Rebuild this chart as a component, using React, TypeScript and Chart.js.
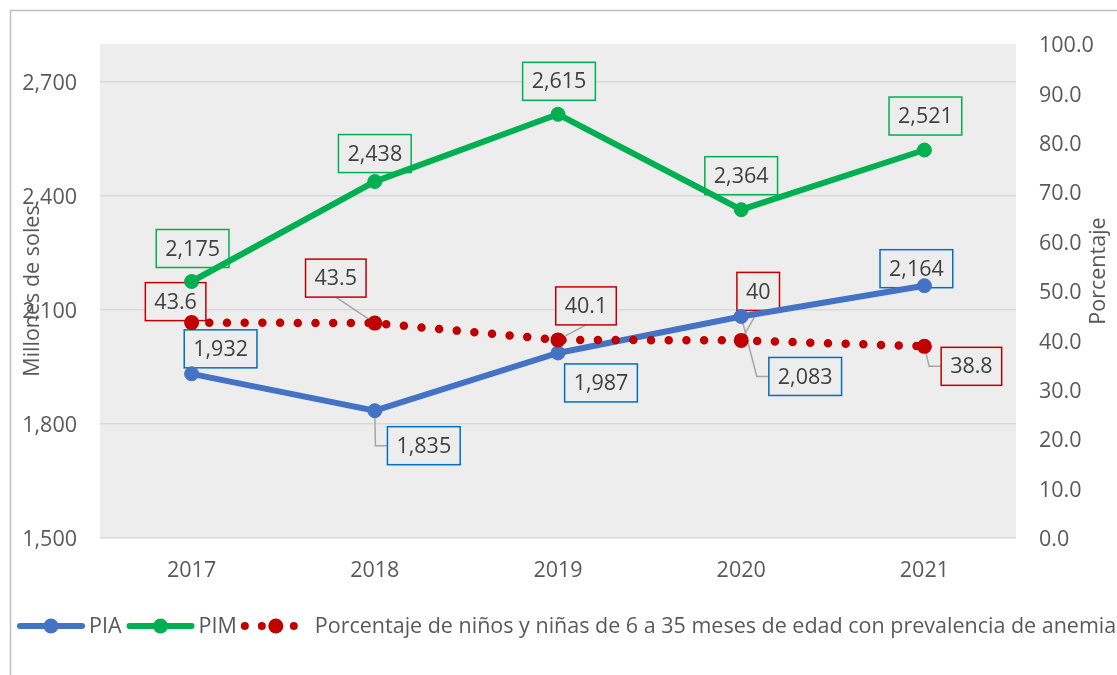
import React, { useEffect, useRef } from 'react';
import { Chart, registerables } from 'chart.js';

Chart.register(...registerables);

// ---- data ----
const years = ['2017', '2018', '2019', '2020', '2021'];
const piaValues = [1932, 1835, 1987, 2083, 2164];
const pimValues = [2175, 2438, 2615, 2364, 2521];
const anemiaValues = [43.6, 43.5, 40.1, 40, 38.8];
const leftTickValues = [1500, 1800, 2100, 2400, 2700];
const rightTickValues = [0, 10, 20, 30, 40, 50, 60, 70, 80, 90, 100];

const seriesNames = ['PIA', 'PIM', 'Porcentaje de niños y niñas de 6 a 35 meses de edad con prevalencia de anemia'];
const leftTitle = 'Millones de soles';
const rightTitle = 'Porcentaje';

// ---- label placement (offset of label box centre from its point) ----
type Leader = 'none' | 'straight' | 'elbow';
const piaLabelPos: [number, number, Leader][] = [
  [29, -25, 'none'], [49, 35, 'elbow'], [43, 30, 'none'], [64, 60, 'elbow'], [-8, -17, 'none'],
];
const pimLabelPos: [number, number, Leader][] = [
  [1, -33, 'none'], [0, -28, 'none'], [1, -33, 'none'], [0, -34, 'none'], [1, -34, 'none'],
];
const anemiaLabelPos: [number, number, Leader][] = [
  [-16, -21, 'none'], [-39, -45, 'straight'], [28, -34, 'straight'], [17, -49, 'straight'], [47, 20, 'elbow'],
];

const FONT = '"Open Sans", "DejaVu Sans", sans-serif';
const FS = 21.5;
const TXT = '#595959';
const LBL = '#404040';
const C_PIA = '#4472C4';
const C_PIM = '#00B050';
const C_AN = '#C00000';
const C_BOX_PIA = '#0070C0';
const PLOT_BG = '#EDEDED';

const fmtThousands = (v: number) => v.toLocaleString('en-US');

const decorPlugin = {
  id: 'decor',
  beforeDraw(chart: any) {
    const { ctx, chartArea: a } = chart;
    ctx.save();
    ctx.fillStyle = '#ffffff';
    ctx.fillRect(0, 0, chart.width, chart.height);
    ctx.fillStyle = PLOT_BG;
    ctx.fillRect(a.left, a.top, a.right - a.left, a.bottom - a.top);
    ctx.strokeStyle = '#BFBFBF';
    ctx.lineWidth = 1.5;
    ctx.beginPath();
    ctx.moveTo(10.5, chart.height);
    ctx.lineTo(10.5, 10.5);
    ctx.lineTo(chart.width, 10.5);
    ctx.stroke();
    ctx.restore();
  },
  beforeDatasetsDraw(chart: any) {
    const { ctx } = chart;
    const groups = [
      { idx: 0, pos: piaLabelPos, color: C_BOX_PIA, text: (v: number) => fmtThousands(v) },
      { idx: 1, pos: pimLabelPos, color: C_PIM, text: (v: number) => fmtThousands(v) },
      { idx: 2, pos: anemiaLabelPos, color: C_AN, text: (v: number) => String(v) },
    ];
    ctx.save();
    ctx.font = `${FS}px ${FONT}`;
    for (const g of groups) {
      const meta = chart.getDatasetMeta(g.idx);
      const data = chart.data.datasets[g.idx].data as number[];
      meta.data.forEach((pt: any, i: number) => {
        const [dx, dy, leader] = g.pos[i];
        const label = g.text(data[i]);
        const tw = ctx.measureText(label).width;
        const w = tw + 18;
        const h = 38;
        const cx = pt.x + dx;
        const cy = pt.y + dy;
        const left = cx - w / 2;
        const top = cy - h / 2;
        if (leader !== 'none') {
          ctx.strokeStyle = '#A6A6A6';
          ctx.lineWidth = 1.5;
          ctx.beginPath();
          if (leader === 'straight') {
            ctx.moveTo(cx, top + h);
            ctx.lineTo(pt.x, pt.y);
          } else {
            ctx.moveTo(pt.x, pt.y);
            ctx.lineTo(Math.max(pt.x, left - 12), cy);
            ctx.lineTo(left, cy);
          }
          ctx.stroke();
        }
        ctx.fillStyle = PLOT_BG;
        ctx.fillRect(left, top, w, h);
        ctx.strokeStyle = g.color;
        ctx.lineWidth = 1.5;
        ctx.strokeRect(left, top, w, h);
        ctx.fillStyle = LBL;
        ctx.textAlign = 'center';
        ctx.textBaseline = 'middle';
        ctx.fillText(label, cx, cy + 1);
      });
    }
    ctx.restore();
  },
  afterDraw(chart: any) {
    const { ctx } = chart;
    ctx.save();
    ctx.font = `${FS}px ${FONT}`;
    ctx.fillStyle = TXT;
    ctx.textAlign = 'center';
    ctx.textBaseline = 'middle';
    ctx.save();
    ctx.translate(33, 291);
    ctx.rotate(-Math.PI / 2);
    ctx.fillText(leftTitle, 0, 0);
    ctx.restore();
    ctx.save();
    ctx.translate(1099, 271);
    ctx.rotate(-Math.PI / 2);
    ctx.fillText(rightTitle, 0, 0);
    ctx.restore();

    // legend
    const ly = 626;
    let x = 17;
    ctx.textAlign = 'left';
    const lineItem = (color: string, name: string) => {
      ctx.strokeStyle = color;
      ctx.lineWidth = 6;
      ctx.lineCap = 'round';
      ctx.beginPath();
      ctx.moveTo(x + 3, ly);
      ctx.lineTo(x + 65, ly);
      ctx.stroke();
      ctx.fillStyle = color;
      ctx.beginPath();
      ctx.arc(x + 34, ly, 7.5, 0, Math.PI * 2);
      ctx.fill();
      ctx.fillStyle = TXT;
      ctx.fillText(name, x + 72, ly + 1);
      x = x + 72 + ctx.measureText(name).width + 5;
    };
    lineItem(C_PIA, seriesNames[0]);
    lineItem(C_PIM, seriesNames[1]);
    ctx.fillStyle = C_AN;
    for (const off of [3, 20, 52]) {
      ctx.beginPath();
      ctx.arc(x + off, ly, 4, 0, Math.PI * 2);
      ctx.fill();
    }
    ctx.beginPath();
    ctx.arc(x + 34, ly, 7.5, 0, Math.PI * 2);
    ctx.fill();
    ctx.fillStyle = TXT;
    ctx.fillText(seriesNames[2], x + 73, ly + 1);
    ctx.restore();
  },
};

export default function App() {
  const ref = useRef<HTMLCanvasElement | null>(null);
  useEffect(() => {
    if (!ref.current) return;
    const chart = new Chart(ref.current, {
      type: 'line',
      data: {
        labels: years,
        datasets: [
          {
            label: seriesNames[0],
            data: piaValues,
            yAxisID: 'y',
            borderColor: C_PIA,
            backgroundColor: C_PIA,
            borderWidth: 6,
            pointRadius: 7,
            pointBorderWidth: 1,
            pointBorderColor: C_PIA,
            pointBackgroundColor: C_PIA,
            tension: 0,
            order: 1,
          },
          {
            label: seriesNames[1],
            data: pimValues,
            yAxisID: 'y',
            borderColor: C_PIM,
            backgroundColor: C_PIM,
            borderWidth: 6,
            pointRadius: 7,
            pointBorderWidth: 1,
            pointBorderColor: C_PIM,
            pointBackgroundColor: C_PIM,
            tension: 0,
            order: 2,
          },
          {
            label: seriesNames[2],
            data: anemiaValues,
            yAxisID: 'y1',
            borderColor: C_AN,
            backgroundColor: C_AN,
            borderWidth: 8.5,
            borderDash: [0, 17.7],
            borderCapStyle: 'round',
            pointRadius: 7.5,
            pointBorderWidth: 0,
            pointBackgroundColor: C_AN,
            tension: 0,
            order: 0,
          },
        ],
      },
      options: {
        responsive: false,
        animation: false,
        devicePixelRatio: 1,
        layout: { padding: { top: 44, left: 0, right: 0, bottom: 0 } },
        plugins: { legend: { display: false }, tooltip: { enabled: false } },
        scales: {
          x: {
            offset: true,
            grid: { display: false, drawTicks: false },
            border: { display: false },
            ticks: { color: TXT, font: { family: FONT, size: FS }, padding: 20 },
            afterFit: (s: any) => { s.height = 137; },
          },
          y: {
            position: 'left',
            min: leftTickValues[0],
            max: 2800,
            grid: { color: '#D9D9D9', lineWidth: 1.5, drawTicks: false },
            border: { display: false },
            ticks: {
              stepSize: 300,
              includeBounds: false,
              color: TXT,
              font: { family: FONT, size: FS },
              padding: 23,
              labelOffset: 2,
              callback: (v: any) => fmtThousands(Number(v)),
            },
            afterBuildTicks: (s: any) => {
              s.ticks = leftTickValues.map((v) => ({ value: v }));
            },
            afterFit: (s: any) => { s.width = 100; },
          },
          y1: {
            position: 'right',
            min: rightTickValues[0],
            max: rightTickValues[rightTickValues.length - 1],
            grid: { drawOnChartArea: false, drawTicks: false },
            border: { display: false },
            ticks: {
              stepSize: 10,
              color: TXT,
              font: { family: FONT, size: FS },
              padding: 23,
              labelOffset: 2,
              callback: (v: any) => Number(v).toFixed(1),
            },
            afterBuildTicks: (s: any) => {
              s.ticks = rightTickValues.map((v) => ({ value: v }));
            },
            afterFit: (s: any) => { s.width = 101; },
          },
        },
      },
      plugins: [decorPlugin],
    } as any);
    return () => chart.destroy();
  }, []);
  return (
    <div style={{ position: 'absolute', left: 0, top: 0, width: 1117, height: 675 }}>
      <canvas ref={ref} width={1117} height={675} style={{ display: 'block', width: 1117, height: 675 }} />
    </div>
  );
}
